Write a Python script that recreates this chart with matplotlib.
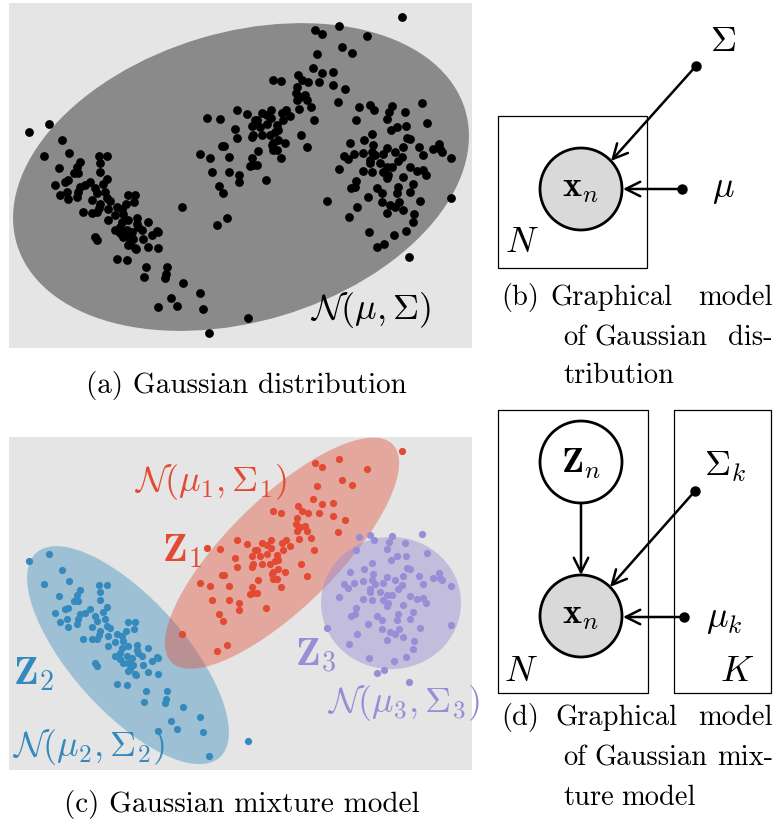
import numpy as np
import matplotlib.pyplot as plt
from matplotlib.patches import Ellipse, Circle, Rectangle

plt.rcParams['font.family'] = 'serif'
plt.rcParams['font.serif'] = ['cmr10']
plt.rcParams['mathtext.fontset'] = 'cm'
plt.rcParams['axes.unicode_minus'] = False

# samples (units: 1/3 pixel of panel a, y grows downward)
cluster_left = [
    (88, 395), (147, 373), (185, 421), (132, 467), (208, 458), (176, 504), (297, 468), (320, 468),
    (240, 485), (232, 500), (300, 490), (300, 515), (222, 518), (235, 520), (205, 540), (195, 545),
    (165, 555), (180, 585), (200, 575), (205, 598), (235, 575), (240, 560), (230, 590), (255, 555),
    (270, 545), (285, 565), (290, 580), (320, 537), (310, 552), (315, 575), (320, 595), (275, 600),
    (300, 612), (330, 603), (297, 625), (250, 637), (275, 638), (290, 636), (325, 627), (350, 620),
    (365, 628), (385, 585), (405, 585), (377, 612), (402, 605), (325, 660), (345, 645), (370, 642),
    (345, 690), (365, 665), (385, 660), (410, 655), (412, 672), (445, 665), (360, 700), (380, 690),
    (395, 695), (385, 712), (390, 730), (400, 718), (405, 745), (425, 690), (430, 718), (455, 705),
    (470, 692), (445, 740), (475, 745), (285, 710), (292, 720), (350, 778), (380, 780), (437, 800),
    (500, 800), (497, 823), (495, 835), (432, 832), (548, 848), (600, 878), (513, 893), (475, 922),
    (530, 918), (610, 927), (745, 955), (628, 1000), (370, 710), (360, 680), (415, 680), (408, 748),
    (385, 735), (473, 695)]

cluster_mid = [
    (1205, 52), (1018, 77), (944, 89), (966, 102), (1101, 109), (1027, 142), (1056, 158), (950, 162),
    (940, 203), (965, 218), (998, 215), (1000, 254), (1036, 268), (1013, 305), (958, 245), (820, 240),
    (842, 244), (893, 225), (905, 240), (925, 245), (890, 260), (888, 280), (900, 290), (915, 285),
    (920, 300), (890, 300), (933, 322), (897, 327), (870, 347), (857, 330), (845, 340), (850, 360),
    (830, 375), (812, 330), (800, 345), (812, 355), (770, 360), (757, 378), (780, 380), (800, 372),
    (825, 395), (810, 405), (786, 405), (760, 405), (740, 343), (712, 330), (660, 357), (620, 355),
    (705, 386), (710, 413), (665, 438), (672, 438), (630, 473), (600, 463), (688, 472), (756, 412),
    (775, 453), (820, 430), (830, 450), (855, 430), (902, 404), (920, 440), (943, 360), (757, 474),
    (750, 497), (770, 494), (760, 495), (686, 515), (636, 515), (716, 525), (718, 547), (798, 540),
    (656, 558), (669, 580), (680, 655), (652, 675), (545, 620), (843, 475), (818, 450), (785, 340),
    (765, 360), (835, 390), (835, 420), (815, 435)]

cluster_right = [
    (1078, 320), (1110, 315), (1122, 330), (1175, 318), (1168, 335), (1216, 337), (1266, 310),
    (1067, 360), (1162, 358), (1280, 368), (1192, 380), (1218, 378), (1172, 390), (1115, 402),
    (1093, 420), (1050, 428), (1222, 415), (1230, 418), (1120, 435), (1210, 440), (1257, 440),
    (1318, 433), (1320, 448), (1300, 448), (1325, 455), (1353, 473), (1270, 465), (1160, 445),
    (1185, 455), (1150, 462), (1115, 455), (1090, 458), (1063, 463), (1033, 467), (1043, 478),
    (1018, 507), (1110, 480), (1125, 465), (1205, 470), (1195, 482), (1140, 490), (1110, 490),
    (1160, 500), (1175, 500), (1088, 512), (1115, 515), (1150, 515), (1165, 525), (1230, 502),
    (1250, 512), (1268, 510), (1278, 525), (1210, 532), (1160, 535), (1068, 542), (1052, 565),
    (1065, 560), (1130, 565), (1145, 578), (1195, 560), (1240, 552), (1105, 590), (1192, 578),
    (1230, 575), (1145, 607), (1170, 615), (1197, 605), (1185, 620), (1160, 640), (1210, 630),
    (1260, 603), (1070, 620), (1048, 652), (1242, 642), (1240, 667), (1352, 593), (980, 603),
    (1107, 695), (1182, 705), (1218, 692), (1132, 742), (1152, 732), (1228, 770)]

left = np.array(cluster_left)
mid = np.array(cluster_mid)
right = np.array(cluster_right)
allpts = np.vstack((left, mid, right))

bg = '#e5e5e5'
red, blue, purple = '#E24A33', '#348ABD', '#988ED5'

W, H = 774, 824
fig = plt.figure(figsize=(W / 100, H / 100), dpi=100)


def px_axes(x0, y0, x1, y1):
    return fig.add_axes([x0 / W, 1 - y1 / H, (x1 - x0) / W, (y1 - y0) / H])


axa = px_axes(9, 3, 472, 348)
axc = px_axes(9, 437, 472, 770)
for ax in (axa, axc):
    ax.set_facecolor(bg)
    ax.set_xlim(27, 1416)
    ax.set_ylim(1044, 9)
    ax.set_xticks([])
    ax.set_yticks([])
    for s in ax.spines.values():
        s.set_visible(False)

# (a) single gaussian
axa.add_patch(Ellipse((723, 531), 1404, 867, angle=-16.7, fc='#8a8a8a', ec='none'))
axa.scatter(allpts[:, 0], allpts[:, 1], s=40, c='k', lw=0, zorder=3)
axa.text(1113, 930, r'$\mathcal{N}(\mu,\Sigma)$', fontsize=26, ha='center', va='center')

# (c) mixture
axc.add_patch(Ellipse((384, 687), 841, 344, angle=49.5, fc=blue, alpha=0.4, ec='none'))
axc.add_patch(Ellipse((846, 370), 948, 333, angle=-45.8, fc=red, alpha=0.4, ec='none'))
axc.add_patch(Ellipse((1173, 525), 420, 411, angle=0, fc=purple, alpha=0.45, ec='none'))
axc.scatter(left[:, 0], left[:, 1], s=27, c=blue, lw=0, zorder=3)
axc.scatter(mid[:, 0], mid[:, 1], s=27, c=red, lw=0, zorder=3)
axc.scatter(right[:, 0], right[:, 1], s=27, c=purple, lw=0, zorder=3)
axc.text(630, 149, r'$\mathcal{N}(\mu_1,\Sigma_1)$', fontsize=26, color=red, ha='center', va='center')
axc.text(546, 363, r'$\mathbf{Z}_1$', fontsize=29, color=red, ha='center', va='center')
axc.text(102, 746, r'$\mathbf{Z}_2$', fontsize=29, color=blue, ha='center', va='center')
axc.text(948, 687, r'$\mathbf{Z}_3$', fontsize=29, color=purple, ha='center', va='center')
axc.text(264, 972, r'$\mathcal{N}(\mu_2,\Sigma_2)$', fontsize=26, color=blue, ha='center', va='center')
axc.text(1209, 836, r'$\mathcal{N}(\mu_3,\Sigma_3)$', fontsize=26, color=purple, ha='center', va='center')

# overlay in pixel units for graphical models and captions
ov = fig.add_axes([0, 0, 1, 1])
ov.set_xlim(0, W)
ov.set_ylim(H, 0)
ov.axis('off')

fs = 20.5
ms = 26
ov.text(246, 393, '(a) Gaussian distribution', fontsize=21, ha='center', va='baseline')
ov.text(242, 812, '(c) Gaussian mixture model', fontsize=21, ha='center', va='baseline')

# justified captions, one word at a time: (x, baseline, word, align)
caption_words = [
    (501, 305, '(b)', 'left'), (550, 305, 'Graphical', 'left'), (773, 305, 'model', 'right'),
    (563, 345, 'of', 'left'), (594, 345, 'Gaussian', 'left'), (773, 345, 'dis-', 'right'),
    (563, 383, 'tribution', 'left'),
    (501, 725, '(d)', 'left'), (555, 725, 'Graphical', 'left'), (773, 725, 'model', 'right'),
    (563, 765, 'of', 'left'), (594, 765, 'Gaussian', 'left'), (773, 765, 'mix-', 'right'),
    (563, 805, 'ture', 'left'), (621, 805, 'model', 'left')]
for x, y, t, ha in caption_words:
    ov.text(x, y, t, fontsize=fs, ha=ha, va='baseline')


def arrow(x0, y0, x1, y1, dot=True):
    ov.annotate('', xy=(x1, y1), xytext=(x0, y0),
                arrowprops=dict(arrowstyle='->', lw=1.8, color='k', shrinkA=0, shrinkB=0,
                                mutation_scale=26))
    if dot:
        ov.plot(x0, y0, 'o', ms=6.5, color='k')


# (b)
ov.add_patch(Rectangle((498, 116), 149, 152, fc='none', ec='k', lw=0.9))
ov.add_patch(Circle((581, 189), 41, fc='#d9d9d9', ec='k', lw=2))
ov.text(581, 189, r'$\mathbf{x}_n$', fontsize=ms, ha='center', va='center')
arrow(696, 66, 611, 161)
arrow(682, 189, 623, 189)
ov.text(723, 42, r'$\Sigma$', fontsize=ms, ha='center', va='center')
ov.text(723, 190, r'$\mu$', fontsize=ms, ha='center', va='center')
ov.text(522, 243, r'$N$', fontsize=ms, ha='center', va='center')

# (d)
ov.add_patch(Rectangle((498, 410), 150, 283, fc='none', ec='k', lw=0.9))
ov.add_patch(Rectangle((674, 410), 97, 283, fc='none', ec='k', lw=0.9))
ov.add_patch(Circle((581, 462), 41, fc='white', ec='k', lw=2))
ov.text(581, 464, r'$\mathbf{Z}_n$', fontsize=ms, ha='center', va='center')
ov.add_patch(Circle((581, 616), 41, fc='#d9d9d9', ec='k', lw=2))
ov.text(581, 616, r'$\mathbf{x}_n$', fontsize=ms, ha='center', va='center')
arrow(581, 503, 581, 575, dot=False)
arrow(695, 491, 610, 587)
arrow(684, 617, 623, 617)
ov.text(725, 467, r'$\Sigma_k$', fontsize=ms, ha='center', va='center')
ov.text(724, 620, r'$\mu_k$', fontsize=ms, ha='center', va='center')
ov.text(521, 672, r'$N$', fontsize=ms, ha='center', va='center')
ov.text(737, 672, r'$K$', fontsize=ms, ha='center', va='center')

fig.savefig('out.png', dpi=100)
